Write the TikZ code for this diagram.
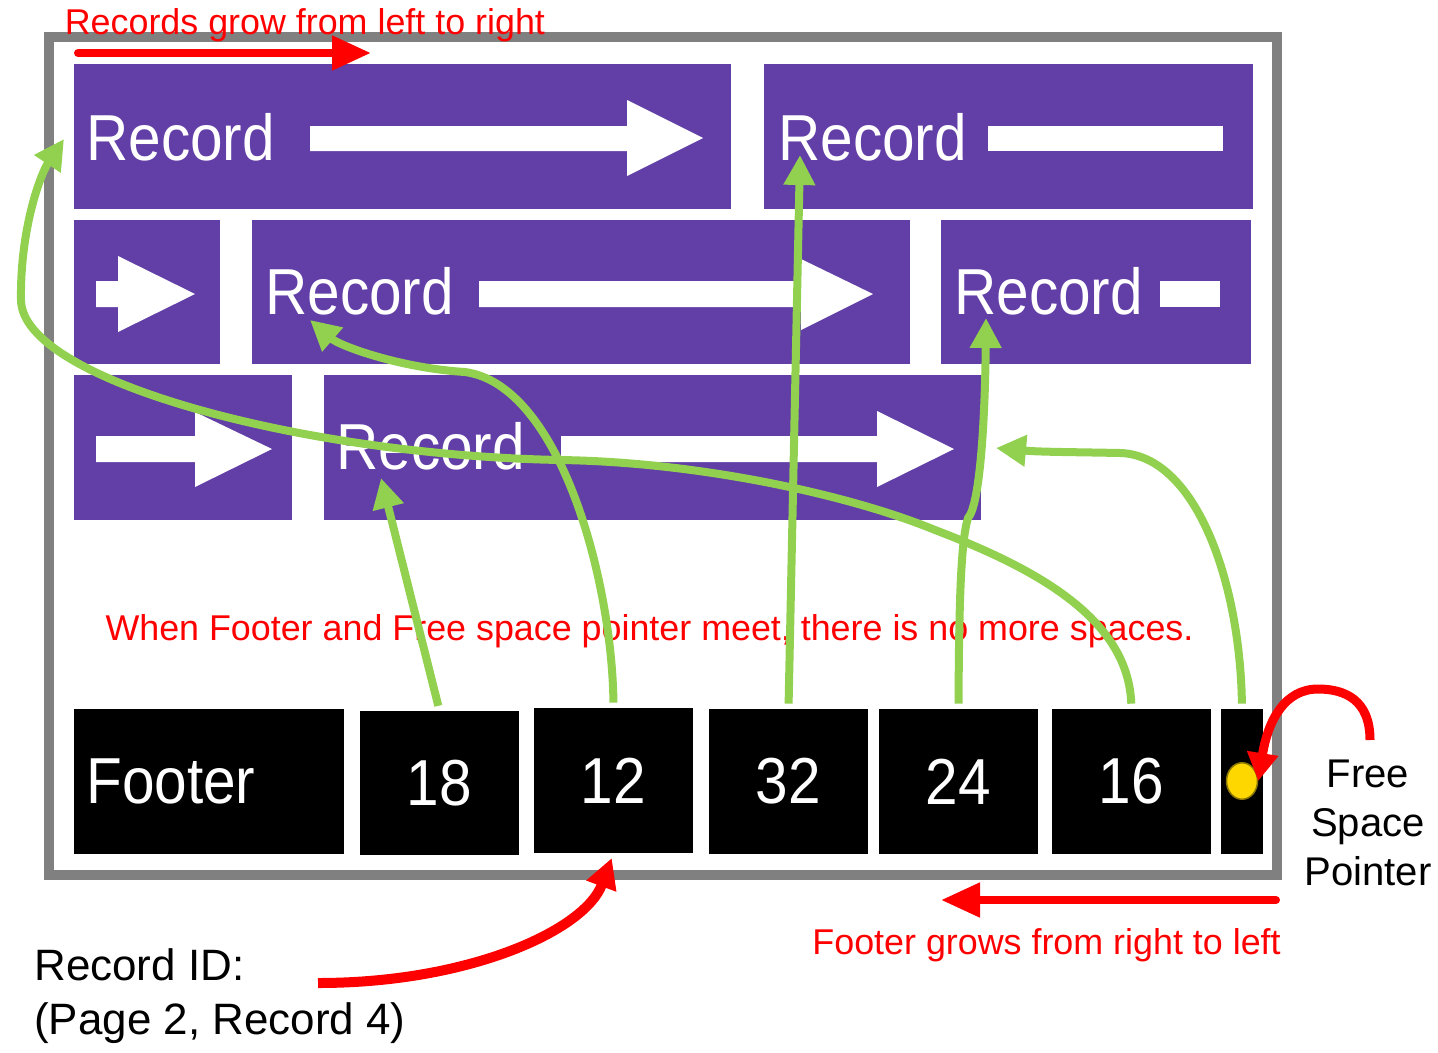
\documentclass[tikz,border=0pt]{standalone}
\usepackage{fontspec}
\setmainfont{Liberation Sans}
\newfontfamily\bigfont[FakeStretch=0.9]{Liberation Sans}
\usetikzlibrary{arrows.meta,fit,shapes.geometric}
\definecolor{recpurple}{RGB}{98,62,167}
\definecolor{ptrgreen}{RGB}{146,208,80}
\definecolor{dotyellow}{RGB}{255,215,0}
\definecolor{dotedge}{RGB}{140,120,0}

\begin{document}
\begin{tikzpicture}[x=0.2mm,y=-0.2mm]
\tikzstyle{every node}+=[inner sep=0pt]
\tikzstyle{rec}=[fill=recpurple]
\tikzstyle{foot}=[fill=black]
\tikzstyle{bigfont}=[text=white,font=\bigfont\fontsize{37}{40}\selectfont]
\tikzstyle{biglabel}=[bigfont,anchor=base west]
\tikzstyle{note}=[text=red,font=\fontsize{20.4}{24}\selectfont]
\tikzstyle{ptr}=[ptrgreen,line width=1.6mm,-{Triangle[length=6mm,width=6mm]}]
\tikzstyle{growarrow}=[red,line width=1.6mm,line cap=round,-{Triangle[length=7.8mm,width=6.6mm]}]
\useasboundingbox (0,0) rectangle (1438,1052);
% page
\draw [gray,line width=2mm] (48.5,37) rectangle (1277,875);
% records
\node [rec,fit={(74,64) (731,209)}] (r1) {};
\node [rec,fit={(764,64) (1253,209)}] (r2) {};
\node [rec,fit={(74,220) (220,364)}] (r3) {};
\node [rec,fit={(252,220) (910,364)}] (r4) {};
\node [rec,fit={(941,220) (1251,364)}] (r5) {};
\node [rec,fit={(74,375) (292,520)}] (r6) {};
\node [rec,fit={(324,375) (981,520)}] (r7) {};
\fill [white] (310,126) -- (627,126) -- (627,100) -- (703,138) -- (627,176) -- (627,151) -- (310,151) -- cycle;
\fill [white] (988,126) rectangle (1223,151);
\fill [white] (96,281) -- (118,281) -- (118,256) -- (195,294) -- (118,332) -- (118,307) -- (96,307) -- cycle;
\fill [white] (479,281) -- (801,281) -- (801,259) -- (873,294) -- (801,330) -- (801,307) -- (479,307) -- cycle;
\fill [white] (1160,281) rectangle (1220,307);
\fill [white] (96,436) -- (195,436) -- (195,412) -- (272,449) -- (195,487) -- (195,462) -- (96,462) -- cycle;
\fill [white] (561,436) -- (877,436) -- (877,411) -- (954,449) -- (877,487) -- (877,462) -- (561,462) -- cycle;
\node [biglabel] (l1) at (86,160) {Record};
\node [biglabel] (l2) at (778,160) {Record};
\node [biglabel] (l4) at (265,314) {Record};
\node [biglabel] (l5) at (954,314) {Record};
\node [biglabel] (l7) at (336,469) {Record};
% footer
\node [foot,fit={(74,709) (344,854)}] (foot) {};
\node [biglabel] (lfoot) at (86,803) {Footer};
\node [foot,fit={(360,711) (519,855)}] (n18) {};
\node [foot,fit={(534,708) (693,853)}] (n12) {};
\node [foot,fit={(709,709) (868,854)}] (n32) {};
\node [foot,fit={(879,709) (1038,854)}] (n24) {};
\node [foot,fit={(1052,709) (1211,854)}] (n16) {};
\node [foot,fit={(1221,709) (1263,854)}] (fsp) {};
\node [bigfont] (l18) at (n18.center) {18};
\node [bigfont] (l12) at (n12.center) {12};
\node [bigfont] (l32) at (n32.center) {32};
\node [bigfont] (l24) at (n24.center) {24};
\node [bigfont] (l16) at (n16.center) {16};
\node [ellipse,fill=dotyellow,draw=dotedge,line width=0.3mm,minimum width=6.2mm,minimum height=7.3mm] (dot) at (1242,781) {};
% texts
\node [note,anchor=base west] (hint1) at (64.5,34) {Records grow from left to right};
\node [note,anchor=base] (hint2) at (649.5,640) {When Footer and Free space pointer meet, there is no more spaces.};
\node [note,anchor=base east] (hint3) at (1281,954) {Footer grows from right to left};
\node [anchor=north,align=center,font=\fontsize{22.8}{27.9}\selectfont] (fsplabel) at (1368,760) {Free\\Space\\Pointer};
\node [anchor=north west,align=left,font=\fontsize{25}{30.7}\selectfont] (rid) at (34,948) {Record ID:\\(Page 2, Record 4)};
% slot pointers
\coordinate (t18) at (381,478);
\coordinate (t12) at (310,320);
\coordinate (t32) at (800,155);
\coordinate (t24) at (986,318);
\coordinate (t16) at (64,139);
\coordinate (tfree) at (996,448);
\draw [ptr,shorten <=1mm] (n18.north) -- (t18);
\draw [ptr,shorten <=1mm] (n12.north) .. controls (612,580) and (560,385) .. (465,372) .. controls (400,368) and (340,346) .. (t12);
\draw [ptr,shorten <=1mm] (n32.north) -- (t32);
\draw [ptr,shorten <=1mm] (n24.north) .. controls (959,600) and (961,540) .. (968,518) .. controls (980,505) and (985,420) .. (t24);
\draw [ptr,shorten <=1mm] (n16.north) .. controls (1128,620) and (1040,570) .. (935,530) .. controls (850,495) and (700,462) .. (560,460) .. controls (300,455) and (22,380) .. (21,300) .. controls (20,230) and (40,175) .. (t16);
\draw [ptr,shorten <=1mm] (fsp.north) .. controls (1240,580) and (1195,455) .. (1120,453) .. controls (1070,452) and (1040,452) .. (tfree);
% growth arrows
\coordinate (rs) at (78,53);
\coordinate (re) at (371,53);
\draw [growarrow] (rs) -- (re);
\coordinate (fs) at (1276,900);
\coordinate (fe) at (941,900);
\draw [growarrow] (fs) -- (fe);
\coordinate (ridtail) at (318,983);
\draw [red,line width=2mm,-{Triangle[length=6mm,width=6mm]},shorten >=1mm] (ridtail) .. controls (470,983) and (585,930) .. (n12.south);
\coordinate (fsptail) at (1370,740);
\draw [red,line width=1.8mm,-{Triangle[length=5.6mm,width=6mm]}] (fsptail) .. controls (1370,700) and (1345,689) .. (1318,689) .. controls (1285,689) and (1268,720) .. (dot.east);
\end{tikzpicture}
\end{document}
